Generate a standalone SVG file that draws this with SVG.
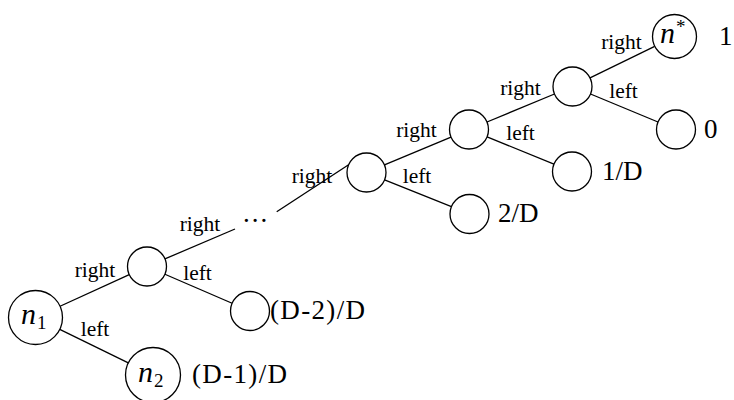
<svg xmlns="http://www.w3.org/2000/svg" width="734" height="400" viewBox="0 0 734 400">
<style>
.n{fill:#fff;stroke:#000;stroke-width:1.3}
.e{stroke:#000;stroke-width:1.3;fill:none}
.lbl{font-family:"Liberation Serif","DejaVu Serif",serif;font-size:21.5px;fill:#000;text-anchor:middle}
.val{font-family:"Liberation Serif","DejaVu Serif",serif;font-size:27px;fill:#000}
.m{font-family:"Liberation Serif","DejaVu Serif",serif;font-style:italic;font-size:30px;fill:#000}
.sub{font-family:"Liberation Serif","DejaVu Serif",serif;font-size:19px;fill:#000}
</style>
<rect width="734" height="400" fill="#fff"/>
<g id="connectors">
<line class="e" x1="60.05" y1="306.27" x2="129.27" y2="274.61"/>
<line class="e" x1="59.75" y1="329.37" x2="128.3" y2="362.91"/>
<line class="e" x1="164.9" y1="274.23" x2="232.1" y2="303.27"/>
<line class="e" x1="164.9" y1="258.9" x2="235" y2="229"/>
<line class="e" x1="276.7" y1="211.7" x2="348.6" y2="164.7"/>
<line class="e" x1="384.59" y1="179.79" x2="451.41" y2="206.71"/>
<line class="e" x1="384.48" y1="164.96" x2="451.02" y2="137.04"/>
<line class="e" x1="487.06" y1="136.86" x2="553.94" y2="164.14"/>
<line class="e" x1="487.01" y1="122.02" x2="554.49" y2="93.98"/>
<line class="e" x1="590.51" y1="93.98" x2="657.99" y2="122.02"/>
<line class="e" x1="590.03" y1="77.95" x2="654.68" y2="46.42"/>
<text class="lbl" x="95" y="277">right</text>
<text class="lbl" x="95" y="336">left</text>
<text class="lbl" x="197.5" y="280">left</text>
<text class="lbl" x="200" y="231">right</text>
<text class="lbl" x="312" y="183">right</text>
<text class="lbl" x="417" y="183">left</text>
<text class="lbl" x="416.5" y="137">right</text>
<text class="lbl" x="520.5" y="140">left</text>
<text class="lbl" x="520.5" y="95">right</text>
<text class="lbl" x="623.5" y="98">left</text>
<text class="lbl" x="621.5" y="49">right</text>
</g>
<g id="n1">
<circle class="n" cx="35.5" cy="317.5" r="27"/>
<text class="m" x="21" y="324">n</text><text class="sub" x="37" y="329">1</text>
</g>
<g id="n2">
<circle class="n" cx="153" cy="375" r="27.5"/>
<text class="m" x="138" y="381.5">n</text><text class="sub" x="154" y="386.5">2</text>
</g>
<g id="a">
<circle class="n" cx="147" cy="266.5" r="19.5"/>
</g>
<g id="e">
<circle class="n" cx="250" cy="311" r="19.5"/>
<text class="val" x="270" y="319" textLength="95">(D-2)/D</text>
</g>
<text class="val" x="192" y="383" textLength="95">(D-1)/D</text>
<g id="dots">
<text class="val" x="256" y="222" text-anchor="middle" letter-spacing="2">...</text>
</g>
<g id="b">
<circle class="n" cx="366.5" cy="172.5" r="19.5"/>
</g>
<g id="f">
<circle class="n" cx="469.5" cy="214" r="19.5"/>
<text class="val" x="498" y="222">2/D</text>
</g>
<g id="c">
<circle class="n" cx="469" cy="129.5" r="19.5"/>
</g>
<g id="g">
<circle class="n" cx="572" cy="171.5" r="19.5"/>
<text class="val" x="602" y="179.5">1/D</text>
</g>
<g id="d">
<circle class="n" cx="572.5" cy="86.5" r="19.5"/>
</g>
<g id="h">
<circle class="n" cx="676" cy="129.5" r="19.5"/>
<text class="val" x="704" y="138">0</text>
</g>
<g id="nstar">
<circle class="n" cx="674.5" cy="36.5" r="22"/>
<text class="m" x="660" y="43">n</text><text class="sub" x="676" y="33">*</text>
<text class="val" x="719" y="45">1</text>
</g>
</svg>
